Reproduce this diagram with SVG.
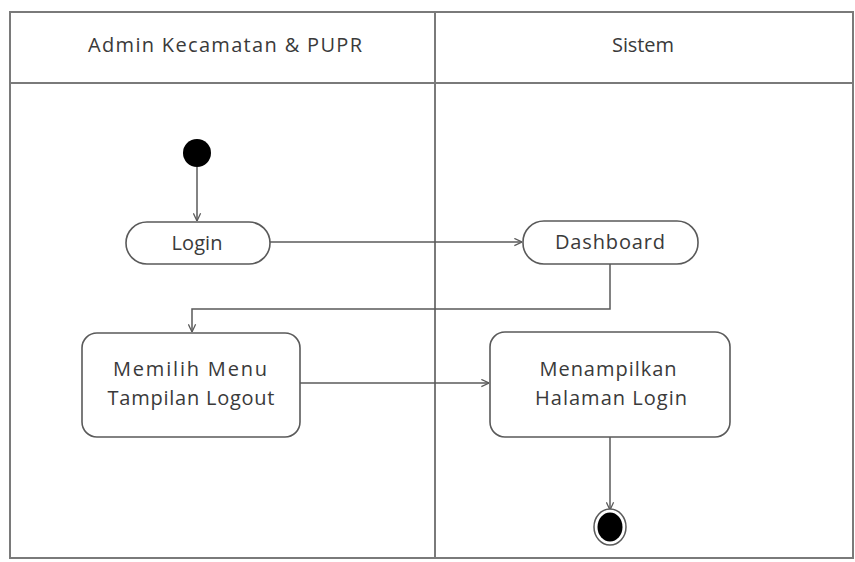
<svg xmlns="http://www.w3.org/2000/svg" width="855" height="562" viewBox="0 0 855 562">
  <style>
    .lane { fill: none; stroke: #7a7a7a; stroke-width: 2; }
    .act { fill: #ffffff; stroke: #5a5a5a; stroke-width: 1.6; }
    .lbl { font-family: "Open Sans", "Liberation Sans", sans-serif; font-size: 20px; fill: #3a3a3a; text-anchor: middle; }
    .flow { fill: none; stroke: #5a5a5a; stroke-width: 1.5; }
  </style>
  <defs>
    <marker id="arrow" viewBox="0 0 10 10" refX="9.5" refY="5" markerWidth="9" markerHeight="9" markerUnits="userSpaceOnUse" orient="auto">
      <path d="M1,1 L9.5,5 L1,9" fill="none" stroke="#5a5a5a" stroke-width="1.4"/>
    </marker>
  </defs>

  <rect x="0" y="0" width="855" height="562" fill="#ffffff"/>

  <!-- swimlanes -->
  <g id="lanes">
    <rect class="lane" x="10" y="12" width="843" height="546"/>
    <line class="lane" x1="10" y1="83" x2="853" y2="83"/>
    <line class="lane" x1="435" y1="12" x2="435" y2="558"/>
    <text class="lbl" x="225" y="52" textLength="274" lengthAdjust="spacing">Admin Kecamatan &amp; PUPR</text>
    <text class="lbl" x="643" y="52" textLength="62" lengthAdjust="spacing">Sistem</text>
  </g>

  <!-- connectors -->
  <g id="connectors">
    <line class="flow" x1="197" y1="167" x2="197" y2="221" marker-end="url(#arrow)"/>
    <line class="flow" x1="270" y1="242" x2="522" y2="242" marker-end="url(#arrow)"/>
    <polyline class="flow" points="610,264 610,309 192,309 192,332" marker-end="url(#arrow)"/>
    <line class="flow" x1="300" y1="383" x2="489" y2="383" marker-end="url(#arrow)"/>
    <line class="flow" x1="610" y1="437" x2="610" y2="510" marker-end="url(#arrow)"/>
  </g>

  <g id="start">
    <circle cx="197" cy="153" r="14" fill="#000000"/>
  </g>

  <g id="login">
    <rect class="act" x="126" y="222" width="144" height="42" rx="21" ry="21"/>
    <text class="lbl" x="197" y="250" textLength="51" lengthAdjust="spacing">Login</text>
  </g>

  <g id="dashboard">
    <rect class="act" x="523" y="221" width="175" height="43" rx="21" ry="21"/>
    <text class="lbl" x="610" y="249" textLength="110" lengthAdjust="spacing">Dashboard</text>
  </g>

  <g id="memilih-menu">
    <rect class="act" x="82" y="333" width="218" height="104" rx="15" ry="15"/>
    <text class="lbl" x="190" y="376" textLength="154" lengthAdjust="spacing">Memilih Menu</text>
    <text class="lbl" x="191" y="405" textLength="167" lengthAdjust="spacing">Tampilan Logout</text>
  </g>

  <g id="menampilkan-login">
    <rect class="act" x="490" y="332" width="240" height="105" rx="15" ry="15"/>
    <text class="lbl" x="608" y="376" textLength="137" lengthAdjust="spacing">Menampilkan</text>
    <text class="lbl" x="611" y="405" textLength="152" lengthAdjust="spacing">Halaman Login</text>
  </g>

  <g id="end">
    <ellipse cx="610" cy="527" rx="16" ry="18" fill="#ffffff" stroke="#5a5a5a" stroke-width="1.5"/>
    <ellipse cx="610" cy="527" rx="12.5" ry="14.5" fill="#000000"/>
  </g>
</svg>
